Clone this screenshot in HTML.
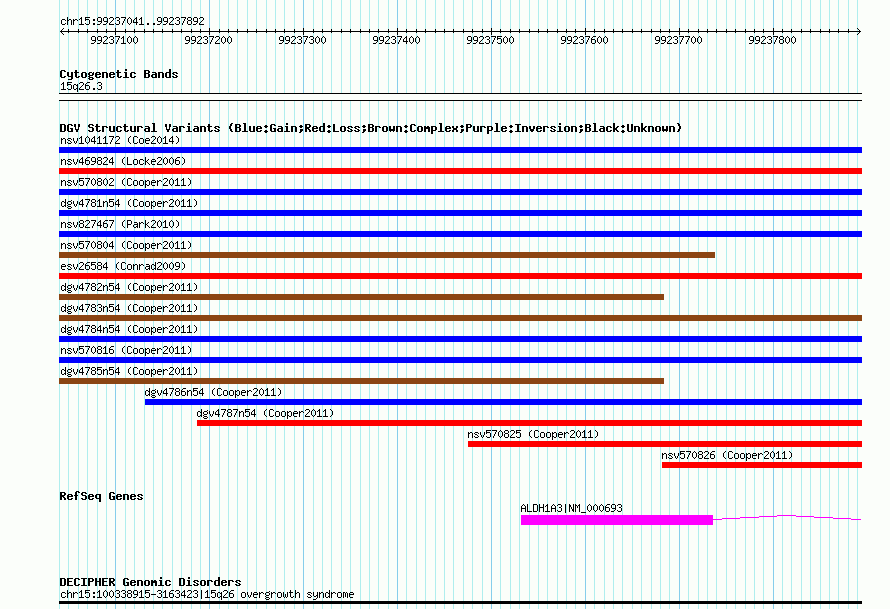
<!DOCTYPE html>
<html lang="en"><head><meta charset="utf-8"><title>chr15:99237041..99237892</title>
<style>
html,body{margin:0;padding:0;background:#fbfefa}
#gb{position:relative;width:890px;height:609px;overflow:hidden;background:#fbfefa}
#gb svg{position:absolute;left:0;top:0;display:block}
.t{position:absolute;white-space:pre;font-family:"Liberation Mono",monospace;font-size:10px;line-height:13px;height:13px;color:transparent}
.h{font-weight:bold;font-size:11.66px}
</style></head><body>
<div id="gb">
<svg width="890" height="609" viewBox="0 0 890 609" shape-rendering="crispEdges" aria-hidden="true"><defs><path id="s40" d="M3 3h1v1h-1zM2 4h1v1h-1zM1 5h1v1h-1zM1 6h1v1h-1zM1 7h1v1h-1zM1 8h1v1h-1zM2 9h1v1h-1zM3 10h1v1h-1z"/><path id="s41" d="M1 3h1v1h-1zM2 4h1v1h-1zM3 5h1v1h-1zM3 6h1v1h-1zM3 7h1v1h-1zM3 8h1v1h-1zM2 9h1v1h-1zM1 10h1v1h-1z"/><path id="s45" d="M0 7h5v1h-5z"/><path id="s46" d="M2 9h2v1h-2zM2 10h2v1h-2z"/><path id="s48" d="M2 3h1v1h-1zM1 4h1v1h-1zM3 4h1v1h-1zM0 5h1v1h-1zM4 5h1v1h-1zM0 6h1v1h-1zM4 6h1v1h-1zM0 7h1v1h-1zM4 7h1v1h-1zM0 8h1v1h-1zM4 8h1v1h-1zM1 9h1v1h-1zM3 9h1v1h-1zM2 10h1v1h-1z"/><path id="s49" d="M2 3h1v1h-1zM1 4h2v1h-2zM0 5h1v1h-1zM2 5h1v1h-1zM2 6h1v1h-1zM2 7h1v1h-1zM2 8h1v1h-1zM2 9h1v1h-1zM0 10h5v1h-5z"/><path id="s50" d="M1 3h3v1h-3zM0 4h1v1h-1zM4 4h1v1h-1zM4 5h1v1h-1zM3 6h1v1h-1zM2 7h1v1h-1zM1 8h1v1h-1zM0 9h1v1h-1zM0 10h5v1h-5z"/><path id="s51" d="M1 3h3v1h-3zM0 4h1v1h-1zM4 4h1v1h-1zM4 5h1v1h-1zM2 6h2v1h-2zM4 7h1v1h-1zM4 8h1v1h-1zM0 9h1v1h-1zM4 9h1v1h-1zM1 10h3v1h-3z"/><path id="s52" d="M3 3h1v1h-1zM2 4h2v1h-2zM1 5h1v1h-1zM3 5h1v1h-1zM0 6h1v1h-1zM3 6h1v1h-1zM0 7h1v1h-1zM3 7h1v1h-1zM0 8h5v1h-5zM3 9h1v1h-1zM3 10h1v1h-1z"/><path id="s53" d="M0 3h5v1h-5zM0 4h1v1h-1zM0 5h4v1h-4zM0 6h1v1h-1zM4 6h1v1h-1zM4 7h1v1h-1zM4 8h1v1h-1zM0 9h1v1h-1zM4 9h1v1h-1zM1 10h3v1h-3z"/><path id="s54" d="M2 3h3v1h-3zM1 4h1v1h-1zM0 5h1v1h-1zM0 6h4v1h-4zM0 7h1v1h-1zM4 7h1v1h-1zM0 8h1v1h-1zM4 8h1v1h-1zM0 9h1v1h-1zM4 9h1v1h-1zM1 10h3v1h-3z"/><path id="s55" d="M0 3h5v1h-5zM4 4h1v1h-1zM3 5h1v1h-1zM3 6h1v1h-1zM2 7h1v1h-1zM2 8h1v1h-1zM1 9h1v1h-1zM1 10h1v1h-1z"/><path id="s56" d="M1 3h3v1h-3zM0 4h1v1h-1zM4 4h1v1h-1zM0 5h1v1h-1zM4 5h1v1h-1zM1 6h3v1h-3zM0 7h1v1h-1zM4 7h1v1h-1zM0 8h1v1h-1zM4 8h1v1h-1zM0 9h1v1h-1zM4 9h1v1h-1zM1 10h3v1h-3z"/><path id="s57" d="M1 3h3v1h-3zM0 4h1v1h-1zM4 4h1v1h-1zM0 5h1v1h-1zM4 5h1v1h-1zM0 6h1v1h-1zM4 6h1v1h-1zM1 7h4v1h-4zM4 8h1v1h-1zM3 9h1v1h-1zM0 10h3v1h-3z"/><path id="s58" d="M2 5h2v1h-2zM2 6h2v1h-2zM2 9h2v1h-2zM2 10h2v1h-2z"/><path id="s65" d="M2 3h1v1h-1zM1 4h1v1h-1zM3 4h1v1h-1zM0 5h1v1h-1zM4 5h1v1h-1zM0 6h1v1h-1zM4 6h1v1h-1zM0 7h5v1h-5zM0 8h1v1h-1zM4 8h1v1h-1zM0 9h1v1h-1zM4 9h1v1h-1zM0 10h1v1h-1zM4 10h1v1h-1z"/><path id="s67" d="M1 3h3v1h-3zM0 4h1v1h-1zM4 4h1v1h-1zM0 5h1v1h-1zM0 6h1v1h-1zM0 7h1v1h-1zM0 8h1v1h-1zM0 9h1v1h-1zM4 9h1v1h-1zM1 10h3v1h-3z"/><path id="s68" d="M0 3h4v1h-4zM0 4h1v1h-1zM4 4h1v1h-1zM0 5h1v1h-1zM4 5h1v1h-1zM0 6h1v1h-1zM4 6h1v1h-1zM0 7h1v1h-1zM4 7h1v1h-1zM0 8h1v1h-1zM4 8h1v1h-1zM0 9h1v1h-1zM4 9h1v1h-1zM0 10h4v1h-4z"/><path id="s72" d="M0 3h1v1h-1zM4 3h1v1h-1zM0 4h1v1h-1zM4 4h1v1h-1zM0 5h1v1h-1zM4 5h1v1h-1zM0 6h5v1h-5zM0 7h1v1h-1zM4 7h1v1h-1zM0 8h1v1h-1zM4 8h1v1h-1zM0 9h1v1h-1zM4 9h1v1h-1zM0 10h1v1h-1zM4 10h1v1h-1z"/><path id="s76" d="M0 3h1v1h-1zM0 4h1v1h-1zM0 5h1v1h-1zM0 6h1v1h-1zM0 7h1v1h-1zM0 8h1v1h-1zM0 9h1v1h-1zM0 10h5v1h-5z"/><path id="s77" d="M0 3h1v1h-1zM4 3h1v1h-1zM0 4h2v1h-2zM3 4h2v1h-2zM0 5h1v1h-1zM2 5h1v1h-1zM4 5h1v1h-1zM0 6h1v1h-1zM2 6h1v1h-1zM4 6h1v1h-1zM0 7h1v1h-1zM4 7h1v1h-1zM0 8h1v1h-1zM4 8h1v1h-1zM0 9h1v1h-1zM4 9h1v1h-1zM0 10h1v1h-1zM4 10h1v1h-1z"/><path id="s78" d="M0 3h1v1h-1zM4 3h1v1h-1zM0 4h2v1h-2zM4 4h1v1h-1zM0 5h2v1h-2zM4 5h1v1h-1zM0 6h1v1h-1zM2 6h1v1h-1zM4 6h1v1h-1zM0 7h1v1h-1zM2 7h1v1h-1zM4 7h1v1h-1zM0 8h1v1h-1zM3 8h2v1h-2zM0 9h1v1h-1zM3 9h2v1h-2zM0 10h1v1h-1zM4 10h1v1h-1z"/><path id="s80" d="M0 3h4v1h-4zM0 4h1v1h-1zM4 4h1v1h-1zM0 5h1v1h-1zM4 5h1v1h-1zM0 6h1v1h-1zM4 6h1v1h-1zM0 7h4v1h-4zM0 8h1v1h-1zM0 9h1v1h-1zM0 10h1v1h-1z"/><path id="s95" d="M0 11h5v1h-5z"/><path id="s97" d="M1 5h3v1h-3zM4 6h1v1h-1zM1 7h4v1h-4zM0 8h1v1h-1zM4 8h1v1h-1zM0 9h1v1h-1zM3 9h2v1h-2zM1 10h2v1h-2zM4 10h1v1h-1z"/><path id="s99" d="M1 5h3v1h-3zM0 6h1v1h-1zM4 6h1v1h-1zM0 7h1v1h-1zM0 8h1v1h-1zM0 9h1v1h-1zM4 9h1v1h-1zM1 10h3v1h-3z"/><path id="s100" d="M4 3h1v1h-1zM4 4h1v1h-1zM1 5h2v1h-2zM4 5h1v1h-1zM0 6h1v1h-1zM3 6h2v1h-2zM0 7h1v1h-1zM4 7h1v1h-1zM0 8h1v1h-1zM4 8h1v1h-1zM0 9h1v1h-1zM3 9h2v1h-2zM1 10h2v1h-2zM4 10h1v1h-1z"/><path id="s101" d="M1 5h3v1h-3zM0 6h1v1h-1zM4 6h1v1h-1zM0 7h5v1h-5zM0 8h1v1h-1zM0 9h1v1h-1zM1 10h3v1h-3z"/><path id="s103" d="M4 4h1v1h-1zM1 5h3v1h-3zM0 6h1v1h-1zM4 6h1v1h-1zM0 7h1v1h-1zM4 7h1v1h-1zM1 8h3v1h-3zM0 9h1v1h-1zM1 10h3v1h-3zM0 11h1v1h-1zM4 11h1v1h-1zM1 12h3v1h-3z"/><path id="s104" d="M0 3h1v1h-1zM0 4h1v1h-1zM0 5h1v1h-1zM2 5h2v1h-2zM0 6h2v1h-2zM4 6h1v1h-1zM0 7h1v1h-1zM4 7h1v1h-1zM0 8h1v1h-1zM4 8h1v1h-1zM0 9h1v1h-1zM4 9h1v1h-1zM0 10h1v1h-1zM4 10h1v1h-1z"/><path id="s107" d="M0 3h1v1h-1zM0 4h1v1h-1zM0 5h1v1h-1zM3 5h1v1h-1zM0 6h1v1h-1zM2 6h1v1h-1zM0 7h2v1h-2zM0 8h1v1h-1zM2 8h1v1h-1zM0 9h1v1h-1zM3 9h1v1h-1zM0 10h1v1h-1zM4 10h1v1h-1z"/><path id="s109" d="M0 5h2v1h-2zM3 5h1v1h-1zM0 6h1v1h-1zM2 6h1v1h-1zM4 6h1v1h-1zM0 7h1v1h-1zM2 7h1v1h-1zM4 7h1v1h-1zM0 8h1v1h-1zM2 8h1v1h-1zM4 8h1v1h-1zM0 9h1v1h-1zM2 9h1v1h-1zM4 9h1v1h-1zM0 10h1v1h-1zM4 10h1v1h-1z"/><path id="s110" d="M0 5h1v1h-1zM2 5h2v1h-2zM0 6h2v1h-2zM4 6h1v1h-1zM0 7h1v1h-1zM4 7h1v1h-1zM0 8h1v1h-1zM4 8h1v1h-1zM0 9h1v1h-1zM4 9h1v1h-1zM0 10h1v1h-1zM4 10h1v1h-1z"/><path id="s111" d="M1 5h3v1h-3zM0 6h1v1h-1zM4 6h1v1h-1zM0 7h1v1h-1zM4 7h1v1h-1zM0 8h1v1h-1zM4 8h1v1h-1zM0 9h1v1h-1zM4 9h1v1h-1zM1 10h3v1h-3z"/><path id="s112" d="M0 5h1v1h-1zM2 5h2v1h-2zM0 6h2v1h-2zM4 6h1v1h-1zM0 7h1v1h-1zM4 7h1v1h-1zM0 8h1v1h-1zM4 8h1v1h-1zM0 9h2v1h-2zM4 9h1v1h-1zM0 10h1v1h-1zM2 10h2v1h-2zM0 11h1v1h-1zM0 12h1v1h-1z"/><path id="s113" d="M1 5h2v1h-2zM4 5h1v1h-1zM0 6h1v1h-1zM3 6h2v1h-2zM0 7h1v1h-1zM4 7h1v1h-1zM0 8h1v1h-1zM4 8h1v1h-1zM0 9h1v1h-1zM3 9h2v1h-2zM1 10h2v1h-2zM4 10h1v1h-1zM4 11h1v1h-1zM4 12h1v1h-1z"/><path id="s114" d="M0 5h1v1h-1zM2 5h2v1h-2zM0 6h2v1h-2zM4 6h1v1h-1zM0 7h1v1h-1zM0 8h1v1h-1zM0 9h1v1h-1zM0 10h1v1h-1z"/><path id="s115" d="M1 5h3v1h-3zM0 6h1v1h-1zM4 6h1v1h-1zM1 7h2v1h-2zM3 8h1v1h-1zM0 9h1v1h-1zM4 9h1v1h-1zM1 10h3v1h-3z"/><path id="s116" d="M1 3h1v1h-1zM1 4h1v1h-1zM0 5h4v1h-4zM1 6h1v1h-1zM1 7h1v1h-1zM1 8h1v1h-1zM1 9h1v1h-1zM4 9h1v1h-1zM2 10h2v1h-2z"/><path id="s118" d="M0 5h1v1h-1zM4 5h1v1h-1zM0 6h1v1h-1zM4 6h1v1h-1zM0 7h1v1h-1zM4 7h1v1h-1zM1 8h1v1h-1zM3 8h1v1h-1zM1 9h1v1h-1zM3 9h1v1h-1zM2 10h1v1h-1z"/><path id="s119" d="M0 5h1v1h-1zM4 5h1v1h-1zM0 6h1v1h-1zM4 6h1v1h-1zM0 7h1v1h-1zM2 7h1v1h-1zM4 7h1v1h-1zM0 8h1v1h-1zM2 8h1v1h-1zM4 8h1v1h-1zM0 9h1v1h-1zM2 9h1v1h-1zM4 9h1v1h-1zM1 10h1v1h-1zM3 10h1v1h-1z"/><path id="s121" d="M0 5h1v1h-1zM4 5h1v1h-1zM0 6h1v1h-1zM4 6h1v1h-1zM0 7h1v1h-1zM4 7h1v1h-1zM0 8h1v1h-1zM3 8h2v1h-2zM1 9h2v1h-2zM4 9h1v1h-1zM4 10h1v1h-1zM3 11h1v1h-1zM0 12h3v1h-3z"/><path id="s124" d="M2 3h1v1h-1zM2 4h1v1h-1zM2 5h1v1h-1zM2 6h1v1h-1zM2 7h1v1h-1zM2 8h1v1h-1zM2 9h1v1h-1zM2 10h1v1h-1zM2 11h1v1h-1z"/><path id="b40" d="M3 2h2v1h-2zM2 3h2v1h-2zM2 4h2v1h-2zM1 5h2v1h-2zM1 6h2v1h-2zM1 7h2v1h-2zM2 8h2v1h-2zM2 9h2v1h-2zM3 10h2v1h-2z"/><path id="b41" d="M1 2h2v1h-2zM2 3h2v1h-2zM2 4h2v1h-2zM3 5h2v1h-2zM3 6h2v1h-2zM3 7h2v1h-2zM2 8h2v1h-2zM2 9h2v1h-2zM1 10h2v1h-2z"/><path id="b58" d="M2 4h2v1h-2zM1 5h4v1h-4zM2 6h2v1h-2zM2 9h2v1h-2zM1 10h4v1h-4zM2 11h2v1h-2z"/><path id="b59" d="M2 4h2v1h-2zM1 5h4v1h-4zM2 6h2v1h-2zM2 8h3v1h-3zM2 9h3v1h-3zM2 10h2v1h-2zM1 11h2v1h-2z"/><path id="b66" d="M0 3h5v1h-5zM0 4h2v1h-2zM4 4h2v1h-2zM0 5h2v1h-2zM4 5h2v1h-2zM0 6h5v1h-5zM0 7h2v1h-2zM4 7h2v1h-2zM0 8h2v1h-2zM4 8h2v1h-2zM0 9h2v1h-2zM4 9h2v1h-2zM0 10h5v1h-5z"/><path id="b67" d="M1 3h4v1h-4zM0 4h2v1h-2zM4 4h2v1h-2zM0 5h2v1h-2zM0 6h2v1h-2zM0 7h2v1h-2zM0 8h2v1h-2zM0 9h2v1h-2zM4 9h2v1h-2zM1 10h4v1h-4z"/><path id="b68" d="M0 3h5v1h-5zM0 4h2v1h-2zM4 4h2v1h-2zM0 5h2v1h-2zM4 5h2v1h-2zM0 6h2v1h-2zM4 6h2v1h-2zM0 7h2v1h-2zM4 7h2v1h-2zM0 8h2v1h-2zM4 8h2v1h-2zM0 9h2v1h-2zM4 9h2v1h-2zM0 10h5v1h-5z"/><path id="b69" d="M0 3h6v1h-6zM0 4h2v1h-2zM0 5h2v1h-2zM0 6h5v1h-5zM0 7h2v1h-2zM0 8h2v1h-2zM0 9h2v1h-2zM0 10h6v1h-6z"/><path id="b71" d="M1 3h4v1h-4zM0 4h2v1h-2zM4 4h2v1h-2zM0 5h2v1h-2zM0 6h2v1h-2zM0 7h2v1h-2zM3 7h3v1h-3zM0 8h2v1h-2zM4 8h2v1h-2zM0 9h2v1h-2zM4 9h2v1h-2zM1 10h5v1h-5z"/><path id="b72" d="M0 3h2v1h-2zM4 3h2v1h-2zM0 4h2v1h-2zM4 4h2v1h-2zM0 5h2v1h-2zM4 5h2v1h-2zM0 6h6v1h-6zM0 7h2v1h-2zM4 7h2v1h-2zM0 8h2v1h-2zM4 8h2v1h-2zM0 9h2v1h-2zM4 9h2v1h-2zM0 10h2v1h-2zM4 10h2v1h-2z"/><path id="b73" d="M0 3h6v1h-6zM2 4h2v1h-2zM2 5h2v1h-2zM2 6h2v1h-2zM2 7h2v1h-2zM2 8h2v1h-2zM2 9h2v1h-2zM0 10h6v1h-6z"/><path id="b76" d="M0 3h2v1h-2zM0 4h2v1h-2zM0 5h2v1h-2zM0 6h2v1h-2zM0 7h2v1h-2zM0 8h2v1h-2zM0 9h2v1h-2zM0 10h6v1h-6z"/><path id="b80" d="M0 3h5v1h-5zM0 4h2v1h-2zM4 4h2v1h-2zM0 5h2v1h-2zM4 5h2v1h-2zM0 6h5v1h-5zM0 7h2v1h-2zM0 8h2v1h-2zM0 9h2v1h-2zM0 10h2v1h-2z"/><path id="b82" d="M0 3h5v1h-5zM0 4h2v1h-2zM4 4h2v1h-2zM0 5h2v1h-2zM4 5h2v1h-2zM0 6h5v1h-5zM0 7h4v1h-4zM0 8h2v1h-2zM3 8h2v1h-2zM0 9h2v1h-2zM4 9h2v1h-2zM0 10h2v1h-2zM4 10h2v1h-2z"/><path id="b83" d="M1 3h4v1h-4zM0 4h2v1h-2zM4 4h2v1h-2zM0 5h2v1h-2zM1 6h4v1h-4zM4 7h2v1h-2zM4 8h2v1h-2zM0 9h2v1h-2zM4 9h2v1h-2zM1 10h4v1h-4z"/><path id="b85" d="M0 3h2v1h-2zM4 3h2v1h-2zM0 4h2v1h-2zM4 4h2v1h-2zM0 5h2v1h-2zM4 5h2v1h-2zM0 6h2v1h-2zM4 6h2v1h-2zM0 7h2v1h-2zM4 7h2v1h-2zM0 8h2v1h-2zM4 8h2v1h-2zM0 9h2v1h-2zM4 9h2v1h-2zM1 10h4v1h-4z"/><path id="b86" d="M0 3h2v1h-2zM4 3h2v1h-2zM0 4h2v1h-2zM4 4h2v1h-2zM0 5h2v1h-2zM4 5h2v1h-2zM1 6h1v1h-1zM4 6h1v1h-1zM1 7h1v1h-1zM4 7h1v1h-1zM1 8h4v1h-4zM2 9h2v1h-2zM2 10h2v1h-2z"/><path id="b97" d="M1 5h4v1h-4zM4 6h2v1h-2zM1 7h5v1h-5zM0 8h2v1h-2zM4 8h2v1h-2zM0 9h2v1h-2zM4 9h2v1h-2zM1 10h5v1h-5z"/><path id="b99" d="M1 5h4v1h-4zM0 6h2v1h-2zM4 6h2v1h-2zM0 7h2v1h-2zM0 8h2v1h-2zM0 9h2v1h-2zM4 9h2v1h-2zM1 10h4v1h-4z"/><path id="b100" d="M4 2h2v1h-2zM4 3h2v1h-2zM4 4h2v1h-2zM1 5h5v1h-5zM0 6h2v1h-2zM4 6h2v1h-2zM0 7h2v1h-2zM4 7h2v1h-2zM0 8h2v1h-2zM4 8h2v1h-2zM0 9h2v1h-2zM4 9h2v1h-2zM1 10h5v1h-5z"/><path id="b101" d="M1 5h4v1h-4zM0 6h2v1h-2zM4 6h2v1h-2zM0 7h6v1h-6zM0 8h2v1h-2zM0 9h2v1h-2zM4 9h2v1h-2zM1 10h4v1h-4z"/><path id="b102" d="M2 2h3v1h-3zM1 3h2v1h-2zM4 3h2v1h-2zM1 4h2v1h-2zM1 5h2v1h-2zM0 6h4v1h-4zM1 7h2v1h-2zM1 8h2v1h-2zM1 9h2v1h-2zM1 10h2v1h-2z"/><path id="b103" d="M1 5h3v1h-3zM5 5h1v1h-1zM0 6h2v1h-2zM4 6h2v1h-2zM0 7h2v1h-2zM4 7h2v1h-2zM1 8h4v1h-4zM0 9h2v1h-2zM1 10h4v1h-4zM0 11h2v1h-2zM4 11h2v1h-2zM1 12h4v1h-4z"/><path id="b105" d="M2 2h2v1h-2zM2 3h2v1h-2zM1 5h3v1h-3zM2 6h2v1h-2zM2 7h2v1h-2zM2 8h2v1h-2zM2 9h2v1h-2zM0 10h6v1h-6z"/><path id="b107" d="M0 2h2v1h-2zM0 3h2v1h-2zM0 4h2v1h-2zM0 5h2v1h-2zM4 5h2v1h-2zM0 6h2v1h-2zM3 6h2v1h-2zM0 7h4v1h-4zM0 8h4v1h-4zM0 9h2v1h-2zM3 9h2v1h-2zM0 10h2v1h-2zM4 10h2v1h-2z"/><path id="b108" d="M1 2h3v1h-3zM2 3h2v1h-2zM2 4h2v1h-2zM2 5h2v1h-2zM2 6h2v1h-2zM2 7h2v1h-2zM2 8h2v1h-2zM2 9h2v1h-2zM0 10h6v1h-6z"/><path id="b109" d="M0 5h2v1h-2zM3 5h2v1h-2zM0 6h6v1h-6zM0 7h6v1h-6zM0 8h2v1h-2zM4 8h2v1h-2zM0 9h2v1h-2zM4 9h2v1h-2zM0 10h2v1h-2zM4 10h2v1h-2z"/><path id="b110" d="M0 5h5v1h-5zM0 6h2v1h-2zM4 6h2v1h-2zM0 7h2v1h-2zM4 7h2v1h-2zM0 8h2v1h-2zM4 8h2v1h-2zM0 9h2v1h-2zM4 9h2v1h-2zM0 10h2v1h-2zM4 10h2v1h-2z"/><path id="b111" d="M1 5h4v1h-4zM0 6h2v1h-2zM4 6h2v1h-2zM0 7h2v1h-2zM4 7h2v1h-2zM0 8h2v1h-2zM4 8h2v1h-2zM0 9h2v1h-2zM4 9h2v1h-2zM1 10h4v1h-4z"/><path id="b112" d="M0 5h5v1h-5zM0 6h2v1h-2zM4 6h2v1h-2zM0 7h2v1h-2zM4 7h2v1h-2zM0 8h2v1h-2zM4 8h2v1h-2zM0 9h5v1h-5zM0 10h2v1h-2zM0 11h2v1h-2zM0 12h2v1h-2z"/><path id="b113" d="M1 5h5v1h-5zM0 6h2v1h-2zM4 6h2v1h-2zM0 7h2v1h-2zM4 7h2v1h-2zM0 8h2v1h-2zM4 8h2v1h-2zM1 9h5v1h-5zM4 10h2v1h-2zM4 11h2v1h-2zM4 12h2v1h-2z"/><path id="b114" d="M0 5h5v1h-5zM0 6h2v1h-2zM4 6h2v1h-2zM0 7h2v1h-2zM0 8h2v1h-2zM0 9h2v1h-2zM0 10h2v1h-2z"/><path id="b115" d="M1 5h4v1h-4zM0 6h2v1h-2zM4 6h2v1h-2zM1 7h2v1h-2zM3 8h2v1h-2zM0 9h2v1h-2zM4 9h2v1h-2zM1 10h4v1h-4z"/><path id="b116" d="M1 3h2v1h-2zM1 4h2v1h-2zM0 5h5v1h-5zM1 6h2v1h-2zM1 7h2v1h-2zM1 8h2v1h-2zM1 9h2v1h-2zM4 9h2v1h-2zM2 10h3v1h-3z"/><path id="b117" d="M0 5h2v1h-2zM4 5h2v1h-2zM0 6h2v1h-2zM4 6h2v1h-2zM0 7h2v1h-2zM4 7h2v1h-2zM0 8h2v1h-2zM4 8h2v1h-2zM0 9h2v1h-2zM4 9h2v1h-2zM1 10h5v1h-5z"/><path id="b118" d="M0 5h2v1h-2zM4 5h2v1h-2zM0 6h2v1h-2zM4 6h2v1h-2zM0 7h2v1h-2zM4 7h2v1h-2zM1 8h4v1h-4zM1 9h4v1h-4zM2 10h2v1h-2z"/><path id="b119" d="M0 5h2v1h-2zM4 5h2v1h-2zM0 6h2v1h-2zM4 6h2v1h-2zM0 7h2v1h-2zM4 7h2v1h-2zM0 8h6v1h-6zM0 9h6v1h-6zM1 10h1v1h-1zM4 10h1v1h-1z"/><path id="b120" d="M0 5h2v1h-2zM4 5h2v1h-2zM0 6h2v1h-2zM4 6h2v1h-2zM1 7h4v1h-4zM1 8h4v1h-4zM0 9h2v1h-2zM4 9h2v1h-2zM0 10h2v1h-2zM4 10h2v1h-2z"/><path id="b121" d="M0 5h2v1h-2zM4 5h2v1h-2zM0 6h2v1h-2zM4 6h2v1h-2zM0 7h2v1h-2zM4 7h2v1h-2zM0 8h2v1h-2zM4 8h2v1h-2zM1 9h5v1h-5zM4 10h2v1h-2zM4 11h2v1h-2zM1 12h4v1h-4z"/></defs><rect width="890" height="609" fill="#fbfefa"/><g transform="translate(.5 0)" fill="none" stroke-width="1">
<path stroke="#afeeee" d="M59 0v609M68 0v609M78 0v609M87 0v609M97 0v609M106 0v609M125 0v609M134 0v609M144 0v609M153 0v609M162 0v609M172 0v609M181 0v609M191 0v609M200 0v609M219 0v609M228 0v609M237 0v609M247 0v609M256 0v609M266 0v609M275 0v609M284 0v609M294 0v609M313 0v609M322 0v609M331 0v609M341 0v609M350 0v609M360 0v609M369 0v609M378 0v609M388 0v609M406 0v609M416 0v609M425 0v609M435 0v609M444 0v609M453 0v609M463 0v609M472 0v609M482 0v609M500 0v609M510 0v609M519 0v609M529 0v609M538 0v609M547 0v609M557 0v609M566 0v609M575 0v609M594 0v609M604 0v609M613 0v609M622 0v609M632 0v609M641 0v609M651 0v609M660 0v609M669 0v609M688 0v609M698 0v609M707 0v609M716 0v609M726 0v609M735 0v609M745 0v609M754 0v609M763 0v609M782 0v609M791 0v609M801 0v609M810 0v609M820 0v609M829 0v609M838 0v609M848 0v609M857 0v609"/>
<path stroke="#87ceeb" d="M115 0v609M209 0v609M303 0v609M397 0v609M491 0v609M585 0v609M679 0v609M773 0v609"/>
</g>
<rect x="59" y="93" width="803" height="8" fill="#fbfefa"/>
<rect x="59" y="147" width="803" height="6" fill="#0000ff"/>
<rect x="59" y="168" width="803" height="6" fill="#ff0000"/>
<rect x="59" y="189" width="803" height="6" fill="#0000ff"/>
<rect x="59" y="210" width="803" height="6" fill="#0000ff"/>
<rect x="59" y="231" width="803" height="6" fill="#0000ff"/>
<rect x="59" y="252" width="656" height="6" fill="#8b4513"/>
<rect x="59" y="273" width="803" height="6" fill="#ff0000"/>
<rect x="59" y="294" width="605" height="6" fill="#8b4513"/>
<rect x="59" y="315" width="803" height="6" fill="#8b4513"/>
<rect x="59" y="336" width="803" height="6" fill="#0000ff"/>
<rect x="59" y="357" width="803" height="6" fill="#0000ff"/>
<rect x="59" y="378" width="605" height="6" fill="#8b4513"/>
<rect x="145" y="399" width="717" height="6" fill="#0000ff"/>
<rect x="197" y="420" width="665" height="6" fill="#ff0000"/>
<rect x="468" y="441" width="394" height="6" fill="#ff0000"/>
<rect x="662" y="462" width="200" height="6" fill="#ff0000"/>
<rect x="521" y="515" width="192" height="10" fill="#ff00ff"/>
<path fill="#ff00ff" d="M713 519h9v1h-9zM722 518h18v1h-18zM740 517h19v1h-19zM759 516h18v1h-18zM777 515h19v1h-19zM796 516h18v1h-18zM814 517h19v1h-19zM833 518h18v1h-18zM851 519h10v1h-10z"/>
<path fill="#000" d="M60 31h801v1h-801zM61 30h1v1h-1zM61 32h1v1h-1zM859 30h1v1h-1zM859 32h1v1h-1zM62 29h1v1h-1zM62 33h1v1h-1zM858 29h1v1h-1zM858 33h1v1h-1zM63 28h1v1h-1zM63 34h1v1h-1zM857 28h1v1h-1zM857 34h1v1h-1zM68 29h1v4h-1zM78 29h1v4h-1zM87 29h1v4h-1zM97 29h1v4h-1zM106 29h1v4h-1zM125 29h1v4h-1zM134 29h1v4h-1zM144 29h1v4h-1zM153 29h1v4h-1zM162 29h1v4h-1zM172 29h1v4h-1zM181 29h1v4h-1zM191 29h1v4h-1zM200 29h1v4h-1zM219 29h1v4h-1zM228 29h1v4h-1zM237 29h1v4h-1zM247 29h1v4h-1zM256 29h1v4h-1zM266 29h1v4h-1zM275 29h1v4h-1zM284 29h1v4h-1zM294 29h1v4h-1zM313 29h1v4h-1zM322 29h1v4h-1zM331 29h1v4h-1zM341 29h1v4h-1zM350 29h1v4h-1zM360 29h1v4h-1zM369 29h1v4h-1zM378 29h1v4h-1zM388 29h1v4h-1zM406 29h1v4h-1zM416 29h1v4h-1zM425 29h1v4h-1zM435 29h1v4h-1zM444 29h1v4h-1zM453 29h1v4h-1zM463 29h1v4h-1zM472 29h1v4h-1zM482 29h1v4h-1zM500 29h1v4h-1zM510 29h1v4h-1zM519 29h1v4h-1zM529 29h1v4h-1zM538 29h1v4h-1zM547 29h1v4h-1zM557 29h1v4h-1zM566 29h1v4h-1zM575 29h1v4h-1zM594 29h1v4h-1zM604 29h1v4h-1zM613 29h1v4h-1zM622 29h1v4h-1zM632 29h1v4h-1zM641 29h1v4h-1zM651 29h1v4h-1zM660 29h1v4h-1zM669 29h1v4h-1zM688 29h1v4h-1zM698 29h1v4h-1zM707 29h1v4h-1zM716 29h1v4h-1zM726 29h1v4h-1zM735 29h1v4h-1zM745 29h1v4h-1zM754 29h1v4h-1zM763 29h1v4h-1zM782 29h1v4h-1zM791 29h1v4h-1zM801 29h1v4h-1zM810 29h1v4h-1zM820 29h1v4h-1zM829 29h1v4h-1zM838 29h1v4h-1zM848 29h1v4h-1zM115 28h1v7h-1zM209 28h1v7h-1zM303 28h1v7h-1zM397 28h1v7h-1zM491 28h1v7h-1zM585 28h1v7h-1zM679 28h1v7h-1zM773 28h1v7h-1zM59 93h803v1h-803zM59 100h803v1h-803zM59 601h803v3h-803z"/>
<g fill="#000"><use href="#s99" x="61" y="14"/><use href="#s104" x="67" y="14"/><use href="#s114" x="73" y="14"/><use href="#s49" x="79" y="14"/><use href="#s53" x="85" y="14"/><use href="#s58" x="91" y="14"/><use href="#s57" x="97" y="14"/><use href="#s57" x="103" y="14"/><use href="#s50" x="109" y="14"/><use href="#s51" x="115" y="14"/><use href="#s55" x="121" y="14"/><use href="#s48" x="127" y="14"/><use href="#s52" x="133" y="14"/><use href="#s49" x="139" y="14"/><use href="#s46" x="145" y="14"/><use href="#s46" x="151" y="14"/><use href="#s57" x="157" y="14"/><use href="#s57" x="163" y="14"/><use href="#s50" x="169" y="14"/><use href="#s51" x="175" y="14"/><use href="#s55" x="181" y="14"/><use href="#s56" x="187" y="14"/><use href="#s57" x="193" y="14"/><use href="#s50" x="199" y="14"/><use href="#s57" x="91" y="33"/><use href="#s57" x="97" y="33"/><use href="#s50" x="103" y="33"/><use href="#s51" x="109" y="33"/><use href="#s55" x="115" y="33"/><use href="#s49" x="121" y="33"/><use href="#s48" x="127" y="33"/><use href="#s48" x="133" y="33"/><use href="#s57" x="185" y="33"/><use href="#s57" x="191" y="33"/><use href="#s50" x="197" y="33"/><use href="#s51" x="203" y="33"/><use href="#s55" x="209" y="33"/><use href="#s50" x="215" y="33"/><use href="#s48" x="221" y="33"/><use href="#s48" x="227" y="33"/><use href="#s57" x="279" y="33"/><use href="#s57" x="285" y="33"/><use href="#s50" x="291" y="33"/><use href="#s51" x="297" y="33"/><use href="#s55" x="303" y="33"/><use href="#s51" x="309" y="33"/><use href="#s48" x="315" y="33"/><use href="#s48" x="321" y="33"/><use href="#s57" x="373" y="33"/><use href="#s57" x="379" y="33"/><use href="#s50" x="385" y="33"/><use href="#s51" x="391" y="33"/><use href="#s55" x="397" y="33"/><use href="#s52" x="403" y="33"/><use href="#s48" x="409" y="33"/><use href="#s48" x="415" y="33"/><use href="#s57" x="467" y="33"/><use href="#s57" x="473" y="33"/><use href="#s50" x="479" y="33"/><use href="#s51" x="485" y="33"/><use href="#s55" x="491" y="33"/><use href="#s53" x="497" y="33"/><use href="#s48" x="503" y="33"/><use href="#s48" x="509" y="33"/><use href="#s57" x="561" y="33"/><use href="#s57" x="567" y="33"/><use href="#s50" x="573" y="33"/><use href="#s51" x="579" y="33"/><use href="#s55" x="585" y="33"/><use href="#s54" x="591" y="33"/><use href="#s48" x="597" y="33"/><use href="#s48" x="603" y="33"/><use href="#s57" x="655" y="33"/><use href="#s57" x="661" y="33"/><use href="#s50" x="667" y="33"/><use href="#s51" x="673" y="33"/><use href="#s55" x="679" y="33"/><use href="#s55" x="685" y="33"/><use href="#s48" x="691" y="33"/><use href="#s48" x="697" y="33"/><use href="#s57" x="749" y="33"/><use href="#s57" x="755" y="33"/><use href="#s50" x="761" y="33"/><use href="#s51" x="767" y="33"/><use href="#s55" x="773" y="33"/><use href="#s56" x="779" y="33"/><use href="#s48" x="785" y="33"/><use href="#s48" x="791" y="33"/><use href="#b67" x="60" y="67"/><use href="#b121" x="67" y="67"/><use href="#b116" x="74" y="67"/><use href="#b111" x="81" y="67"/><use href="#b103" x="88" y="67"/><use href="#b101" x="95" y="67"/><use href="#b110" x="102" y="67"/><use href="#b101" x="109" y="67"/><use href="#b116" x="116" y="67"/><use href="#b105" x="123" y="67"/><use href="#b99" x="130" y="67"/><use href="#b66" x="144" y="67"/><use href="#b97" x="151" y="67"/><use href="#b110" x="158" y="67"/><use href="#b100" x="165" y="67"/><use href="#b115" x="172" y="67"/><use href="#s49" x="61" y="79"/><use href="#s53" x="67" y="79"/><use href="#s113" x="73" y="79"/><use href="#s50" x="79" y="79"/><use href="#s54" x="85" y="79"/><use href="#s46" x="91" y="79"/><use href="#s51" x="97" y="79"/><use href="#b68" x="60" y="121"/><use href="#b71" x="67" y="121"/><use href="#b86" x="74" y="121"/><use href="#b83" x="88" y="121"/><use href="#b116" x="95" y="121"/><use href="#b114" x="102" y="121"/><use href="#b117" x="109" y="121"/><use href="#b99" x="116" y="121"/><use href="#b116" x="123" y="121"/><use href="#b117" x="130" y="121"/><use href="#b114" x="137" y="121"/><use href="#b97" x="144" y="121"/><use href="#b108" x="151" y="121"/><use href="#b86" x="165" y="121"/><use href="#b97" x="172" y="121"/><use href="#b114" x="179" y="121"/><use href="#b105" x="186" y="121"/><use href="#b97" x="193" y="121"/><use href="#b110" x="200" y="121"/><use href="#b116" x="207" y="121"/><use href="#b115" x="214" y="121"/><use href="#b40" x="228" y="121"/><use href="#b66" x="235" y="121"/><use href="#b108" x="242" y="121"/><use href="#b117" x="249" y="121"/><use href="#b101" x="256" y="121"/><use href="#b58" x="263" y="121"/><use href="#b71" x="270" y="121"/><use href="#b97" x="277" y="121"/><use href="#b105" x="284" y="121"/><use href="#b110" x="291" y="121"/><use href="#b59" x="298" y="121"/><use href="#b82" x="305" y="121"/><use href="#b101" x="312" y="121"/><use href="#b100" x="319" y="121"/><use href="#b58" x="326" y="121"/><use href="#b76" x="333" y="121"/><use href="#b111" x="340" y="121"/><use href="#b115" x="347" y="121"/><use href="#b115" x="354" y="121"/><use href="#b59" x="361" y="121"/><use href="#b66" x="368" y="121"/><use href="#b114" x="375" y="121"/><use href="#b111" x="382" y="121"/><use href="#b119" x="389" y="121"/><use href="#b110" x="396" y="121"/><use href="#b58" x="403" y="121"/><use href="#b67" x="410" y="121"/><use href="#b111" x="417" y="121"/><use href="#b109" x="424" y="121"/><use href="#b112" x="431" y="121"/><use href="#b108" x="438" y="121"/><use href="#b101" x="445" y="121"/><use href="#b120" x="452" y="121"/><use href="#b59" x="459" y="121"/><use href="#b80" x="466" y="121"/><use href="#b117" x="473" y="121"/><use href="#b114" x="480" y="121"/><use href="#b112" x="487" y="121"/><use href="#b108" x="494" y="121"/><use href="#b101" x="501" y="121"/><use href="#b58" x="508" y="121"/><use href="#b73" x="515" y="121"/><use href="#b110" x="522" y="121"/><use href="#b118" x="529" y="121"/><use href="#b101" x="536" y="121"/><use href="#b114" x="543" y="121"/><use href="#b115" x="550" y="121"/><use href="#b105" x="557" y="121"/><use href="#b111" x="564" y="121"/><use href="#b110" x="571" y="121"/><use href="#b59" x="578" y="121"/><use href="#b66" x="585" y="121"/><use href="#b108" x="592" y="121"/><use href="#b97" x="599" y="121"/><use href="#b99" x="606" y="121"/><use href="#b107" x="613" y="121"/><use href="#b58" x="620" y="121"/><use href="#b85" x="627" y="121"/><use href="#b110" x="634" y="121"/><use href="#b107" x="641" y="121"/><use href="#b110" x="648" y="121"/><use href="#b111" x="655" y="121"/><use href="#b119" x="662" y="121"/><use href="#b110" x="669" y="121"/><use href="#b41" x="676" y="121"/><use href="#s110" x="61" y="133"/><use href="#s115" x="67" y="133"/><use href="#s118" x="73" y="133"/><use href="#s49" x="79" y="133"/><use href="#s48" x="85" y="133"/><use href="#s52" x="91" y="133"/><use href="#s49" x="97" y="133"/><use href="#s49" x="103" y="133"/><use href="#s55" x="109" y="133"/><use href="#s50" x="115" y="133"/><use href="#s40" x="127" y="133"/><use href="#s67" x="133" y="133"/><use href="#s111" x="139" y="133"/><use href="#s101" x="145" y="133"/><use href="#s50" x="151" y="133"/><use href="#s48" x="157" y="133"/><use href="#s49" x="163" y="133"/><use href="#s52" x="169" y="133"/><use href="#s41" x="175" y="133"/><use href="#s110" x="61" y="154"/><use href="#s115" x="67" y="154"/><use href="#s118" x="73" y="154"/><use href="#s52" x="79" y="154"/><use href="#s54" x="85" y="154"/><use href="#s57" x="91" y="154"/><use href="#s56" x="97" y="154"/><use href="#s50" x="103" y="154"/><use href="#s52" x="109" y="154"/><use href="#s40" x="121" y="154"/><use href="#s76" x="127" y="154"/><use href="#s111" x="133" y="154"/><use href="#s99" x="139" y="154"/><use href="#s107" x="145" y="154"/><use href="#s101" x="151" y="154"/><use href="#s50" x="157" y="154"/><use href="#s48" x="163" y="154"/><use href="#s48" x="169" y="154"/><use href="#s54" x="175" y="154"/><use href="#s41" x="181" y="154"/><use href="#s110" x="61" y="175"/><use href="#s115" x="67" y="175"/><use href="#s118" x="73" y="175"/><use href="#s53" x="79" y="175"/><use href="#s55" x="85" y="175"/><use href="#s48" x="91" y="175"/><use href="#s56" x="97" y="175"/><use href="#s48" x="103" y="175"/><use href="#s50" x="109" y="175"/><use href="#s40" x="121" y="175"/><use href="#s67" x="127" y="175"/><use href="#s111" x="133" y="175"/><use href="#s111" x="139" y="175"/><use href="#s112" x="145" y="175"/><use href="#s101" x="151" y="175"/><use href="#s114" x="157" y="175"/><use href="#s50" x="163" y="175"/><use href="#s48" x="169" y="175"/><use href="#s49" x="175" y="175"/><use href="#s49" x="181" y="175"/><use href="#s41" x="187" y="175"/><use href="#s100" x="61" y="196"/><use href="#s103" x="67" y="196"/><use href="#s118" x="73" y="196"/><use href="#s52" x="79" y="196"/><use href="#s55" x="85" y="196"/><use href="#s56" x="91" y="196"/><use href="#s49" x="97" y="196"/><use href="#s110" x="103" y="196"/><use href="#s53" x="109" y="196"/><use href="#s52" x="115" y="196"/><use href="#s40" x="127" y="196"/><use href="#s67" x="133" y="196"/><use href="#s111" x="139" y="196"/><use href="#s111" x="145" y="196"/><use href="#s112" x="151" y="196"/><use href="#s101" x="157" y="196"/><use href="#s114" x="163" y="196"/><use href="#s50" x="169" y="196"/><use href="#s48" x="175" y="196"/><use href="#s49" x="181" y="196"/><use href="#s49" x="187" y="196"/><use href="#s41" x="193" y="196"/><use href="#s110" x="61" y="217"/><use href="#s115" x="67" y="217"/><use href="#s118" x="73" y="217"/><use href="#s56" x="79" y="217"/><use href="#s50" x="85" y="217"/><use href="#s55" x="91" y="217"/><use href="#s52" x="97" y="217"/><use href="#s54" x="103" y="217"/><use href="#s55" x="109" y="217"/><use href="#s40" x="121" y="217"/><use href="#s80" x="127" y="217"/><use href="#s97" x="133" y="217"/><use href="#s114" x="139" y="217"/><use href="#s107" x="145" y="217"/><use href="#s50" x="151" y="217"/><use href="#s48" x="157" y="217"/><use href="#s49" x="163" y="217"/><use href="#s48" x="169" y="217"/><use href="#s41" x="175" y="217"/><use href="#s110" x="61" y="238"/><use href="#s115" x="67" y="238"/><use href="#s118" x="73" y="238"/><use href="#s53" x="79" y="238"/><use href="#s55" x="85" y="238"/><use href="#s48" x="91" y="238"/><use href="#s56" x="97" y="238"/><use href="#s48" x="103" y="238"/><use href="#s52" x="109" y="238"/><use href="#s40" x="121" y="238"/><use href="#s67" x="127" y="238"/><use href="#s111" x="133" y="238"/><use href="#s111" x="139" y="238"/><use href="#s112" x="145" y="238"/><use href="#s101" x="151" y="238"/><use href="#s114" x="157" y="238"/><use href="#s50" x="163" y="238"/><use href="#s48" x="169" y="238"/><use href="#s49" x="175" y="238"/><use href="#s49" x="181" y="238"/><use href="#s41" x="187" y="238"/><use href="#s101" x="61" y="259"/><use href="#s115" x="67" y="259"/><use href="#s118" x="73" y="259"/><use href="#s50" x="79" y="259"/><use href="#s54" x="85" y="259"/><use href="#s53" x="91" y="259"/><use href="#s56" x="97" y="259"/><use href="#s52" x="103" y="259"/><use href="#s40" x="115" y="259"/><use href="#s67" x="121" y="259"/><use href="#s111" x="127" y="259"/><use href="#s110" x="133" y="259"/><use href="#s114" x="139" y="259"/><use href="#s97" x="145" y="259"/><use href="#s100" x="151" y="259"/><use href="#s50" x="157" y="259"/><use href="#s48" x="163" y="259"/><use href="#s48" x="169" y="259"/><use href="#s57" x="175" y="259"/><use href="#s41" x="181" y="259"/><use href="#s100" x="61" y="280"/><use href="#s103" x="67" y="280"/><use href="#s118" x="73" y="280"/><use href="#s52" x="79" y="280"/><use href="#s55" x="85" y="280"/><use href="#s56" x="91" y="280"/><use href="#s50" x="97" y="280"/><use href="#s110" x="103" y="280"/><use href="#s53" x="109" y="280"/><use href="#s52" x="115" y="280"/><use href="#s40" x="127" y="280"/><use href="#s67" x="133" y="280"/><use href="#s111" x="139" y="280"/><use href="#s111" x="145" y="280"/><use href="#s112" x="151" y="280"/><use href="#s101" x="157" y="280"/><use href="#s114" x="163" y="280"/><use href="#s50" x="169" y="280"/><use href="#s48" x="175" y="280"/><use href="#s49" x="181" y="280"/><use href="#s49" x="187" y="280"/><use href="#s41" x="193" y="280"/><use href="#s100" x="61" y="301"/><use href="#s103" x="67" y="301"/><use href="#s118" x="73" y="301"/><use href="#s52" x="79" y="301"/><use href="#s55" x="85" y="301"/><use href="#s56" x="91" y="301"/><use href="#s51" x="97" y="301"/><use href="#s110" x="103" y="301"/><use href="#s53" x="109" y="301"/><use href="#s52" x="115" y="301"/><use href="#s40" x="127" y="301"/><use href="#s67" x="133" y="301"/><use href="#s111" x="139" y="301"/><use href="#s111" x="145" y="301"/><use href="#s112" x="151" y="301"/><use href="#s101" x="157" y="301"/><use href="#s114" x="163" y="301"/><use href="#s50" x="169" y="301"/><use href="#s48" x="175" y="301"/><use href="#s49" x="181" y="301"/><use href="#s49" x="187" y="301"/><use href="#s41" x="193" y="301"/><use href="#s100" x="61" y="322"/><use href="#s103" x="67" y="322"/><use href="#s118" x="73" y="322"/><use href="#s52" x="79" y="322"/><use href="#s55" x="85" y="322"/><use href="#s56" x="91" y="322"/><use href="#s52" x="97" y="322"/><use href="#s110" x="103" y="322"/><use href="#s53" x="109" y="322"/><use href="#s52" x="115" y="322"/><use href="#s40" x="127" y="322"/><use href="#s67" x="133" y="322"/><use href="#s111" x="139" y="322"/><use href="#s111" x="145" y="322"/><use href="#s112" x="151" y="322"/><use href="#s101" x="157" y="322"/><use href="#s114" x="163" y="322"/><use href="#s50" x="169" y="322"/><use href="#s48" x="175" y="322"/><use href="#s49" x="181" y="322"/><use href="#s49" x="187" y="322"/><use href="#s41" x="193" y="322"/><use href="#s110" x="61" y="343"/><use href="#s115" x="67" y="343"/><use href="#s118" x="73" y="343"/><use href="#s53" x="79" y="343"/><use href="#s55" x="85" y="343"/><use href="#s48" x="91" y="343"/><use href="#s56" x="97" y="343"/><use href="#s49" x="103" y="343"/><use href="#s54" x="109" y="343"/><use href="#s40" x="121" y="343"/><use href="#s67" x="127" y="343"/><use href="#s111" x="133" y="343"/><use href="#s111" x="139" y="343"/><use href="#s112" x="145" y="343"/><use href="#s101" x="151" y="343"/><use href="#s114" x="157" y="343"/><use href="#s50" x="163" y="343"/><use href="#s48" x="169" y="343"/><use href="#s49" x="175" y="343"/><use href="#s49" x="181" y="343"/><use href="#s41" x="187" y="343"/><use href="#s100" x="61" y="364"/><use href="#s103" x="67" y="364"/><use href="#s118" x="73" y="364"/><use href="#s52" x="79" y="364"/><use href="#s55" x="85" y="364"/><use href="#s56" x="91" y="364"/><use href="#s53" x="97" y="364"/><use href="#s110" x="103" y="364"/><use href="#s53" x="109" y="364"/><use href="#s52" x="115" y="364"/><use href="#s40" x="127" y="364"/><use href="#s67" x="133" y="364"/><use href="#s111" x="139" y="364"/><use href="#s111" x="145" y="364"/><use href="#s112" x="151" y="364"/><use href="#s101" x="157" y="364"/><use href="#s114" x="163" y="364"/><use href="#s50" x="169" y="364"/><use href="#s48" x="175" y="364"/><use href="#s49" x="181" y="364"/><use href="#s49" x="187" y="364"/><use href="#s41" x="193" y="364"/><use href="#s100" x="145" y="385"/><use href="#s103" x="151" y="385"/><use href="#s118" x="157" y="385"/><use href="#s52" x="163" y="385"/><use href="#s55" x="169" y="385"/><use href="#s56" x="175" y="385"/><use href="#s54" x="181" y="385"/><use href="#s110" x="187" y="385"/><use href="#s53" x="193" y="385"/><use href="#s52" x="199" y="385"/><use href="#s40" x="211" y="385"/><use href="#s67" x="217" y="385"/><use href="#s111" x="223" y="385"/><use href="#s111" x="229" y="385"/><use href="#s112" x="235" y="385"/><use href="#s101" x="241" y="385"/><use href="#s114" x="247" y="385"/><use href="#s50" x="253" y="385"/><use href="#s48" x="259" y="385"/><use href="#s49" x="265" y="385"/><use href="#s49" x="271" y="385"/><use href="#s41" x="277" y="385"/><use href="#s100" x="197" y="406"/><use href="#s103" x="203" y="406"/><use href="#s118" x="209" y="406"/><use href="#s52" x="215" y="406"/><use href="#s55" x="221" y="406"/><use href="#s56" x="227" y="406"/><use href="#s55" x="233" y="406"/><use href="#s110" x="239" y="406"/><use href="#s53" x="245" y="406"/><use href="#s52" x="251" y="406"/><use href="#s40" x="263" y="406"/><use href="#s67" x="269" y="406"/><use href="#s111" x="275" y="406"/><use href="#s111" x="281" y="406"/><use href="#s112" x="287" y="406"/><use href="#s101" x="293" y="406"/><use href="#s114" x="299" y="406"/><use href="#s50" x="305" y="406"/><use href="#s48" x="311" y="406"/><use href="#s49" x="317" y="406"/><use href="#s49" x="323" y="406"/><use href="#s41" x="329" y="406"/><use href="#s110" x="468" y="427"/><use href="#s115" x="474" y="427"/><use href="#s118" x="480" y="427"/><use href="#s53" x="486" y="427"/><use href="#s55" x="492" y="427"/><use href="#s48" x="498" y="427"/><use href="#s56" x="504" y="427"/><use href="#s50" x="510" y="427"/><use href="#s53" x="516" y="427"/><use href="#s40" x="528" y="427"/><use href="#s67" x="534" y="427"/><use href="#s111" x="540" y="427"/><use href="#s111" x="546" y="427"/><use href="#s112" x="552" y="427"/><use href="#s101" x="558" y="427"/><use href="#s114" x="564" y="427"/><use href="#s50" x="570" y="427"/><use href="#s48" x="576" y="427"/><use href="#s49" x="582" y="427"/><use href="#s49" x="588" y="427"/><use href="#s41" x="594" y="427"/><use href="#s110" x="662" y="448"/><use href="#s115" x="668" y="448"/><use href="#s118" x="674" y="448"/><use href="#s53" x="680" y="448"/><use href="#s55" x="686" y="448"/><use href="#s48" x="692" y="448"/><use href="#s56" x="698" y="448"/><use href="#s50" x="704" y="448"/><use href="#s54" x="710" y="448"/><use href="#s40" x="722" y="448"/><use href="#s67" x="728" y="448"/><use href="#s111" x="734" y="448"/><use href="#s111" x="740" y="448"/><use href="#s112" x="746" y="448"/><use href="#s101" x="752" y="448"/><use href="#s114" x="758" y="448"/><use href="#s50" x="764" y="448"/><use href="#s48" x="770" y="448"/><use href="#s49" x="776" y="448"/><use href="#s49" x="782" y="448"/><use href="#s41" x="788" y="448"/><use href="#b82" x="60" y="489"/><use href="#b101" x="67" y="489"/><use href="#b102" x="74" y="489"/><use href="#b83" x="81" y="489"/><use href="#b101" x="88" y="489"/><use href="#b113" x="95" y="489"/><use href="#b71" x="109" y="489"/><use href="#b101" x="116" y="489"/><use href="#b110" x="123" y="489"/><use href="#b101" x="130" y="489"/><use href="#b115" x="137" y="489"/><use href="#s65" x="521" y="501"/><use href="#s76" x="527" y="501"/><use href="#s68" x="533" y="501"/><use href="#s72" x="539" y="501"/><use href="#s49" x="545" y="501"/><use href="#s65" x="551" y="501"/><use href="#s51" x="557" y="501"/><use href="#s124" x="563" y="501"/><use href="#s78" x="569" y="501"/><use href="#s77" x="575" y="501"/><use href="#s95" x="581" y="501"/><use href="#s48" x="587" y="501"/><use href="#s48" x="593" y="501"/><use href="#s48" x="599" y="501"/><use href="#s54" x="605" y="501"/><use href="#s57" x="611" y="501"/><use href="#s51" x="617" y="501"/><use href="#b68" x="60" y="575"/><use href="#b69" x="67" y="575"/><use href="#b67" x="74" y="575"/><use href="#b73" x="81" y="575"/><use href="#b80" x="88" y="575"/><use href="#b72" x="95" y="575"/><use href="#b69" x="102" y="575"/><use href="#b82" x="109" y="575"/><use href="#b71" x="123" y="575"/><use href="#b101" x="130" y="575"/><use href="#b110" x="137" y="575"/><use href="#b111" x="144" y="575"/><use href="#b109" x="151" y="575"/><use href="#b105" x="158" y="575"/><use href="#b99" x="165" y="575"/><use href="#b68" x="179" y="575"/><use href="#b105" x="186" y="575"/><use href="#b115" x="193" y="575"/><use href="#b111" x="200" y="575"/><use href="#b114" x="207" y="575"/><use href="#b100" x="214" y="575"/><use href="#b101" x="221" y="575"/><use href="#b114" x="228" y="575"/><use href="#b115" x="235" y="575"/><use href="#s99" x="61" y="587"/><use href="#s104" x="67" y="587"/><use href="#s114" x="73" y="587"/><use href="#s49" x="79" y="587"/><use href="#s53" x="85" y="587"/><use href="#s58" x="91" y="587"/><use href="#s49" x="97" y="587"/><use href="#s48" x="103" y="587"/><use href="#s48" x="109" y="587"/><use href="#s51" x="115" y="587"/><use href="#s51" x="121" y="587"/><use href="#s56" x="127" y="587"/><use href="#s57" x="133" y="587"/><use href="#s49" x="139" y="587"/><use href="#s53" x="145" y="587"/><use href="#s45" x="151" y="587"/><use href="#s51" x="157" y="587"/><use href="#s49" x="163" y="587"/><use href="#s54" x="169" y="587"/><use href="#s51" x="175" y="587"/><use href="#s52" x="181" y="587"/><use href="#s50" x="187" y="587"/><use href="#s51" x="193" y="587"/><use href="#s124" x="199" y="587"/><use href="#s49" x="205" y="587"/><use href="#s53" x="211" y="587"/><use href="#s113" x="217" y="587"/><use href="#s50" x="223" y="587"/><use href="#s54" x="229" y="587"/><use href="#s111" x="241" y="587"/><use href="#s118" x="247" y="587"/><use href="#s101" x="253" y="587"/><use href="#s114" x="259" y="587"/><use href="#s103" x="265" y="587"/><use href="#s114" x="271" y="587"/><use href="#s111" x="277" y="587"/><use href="#s119" x="283" y="587"/><use href="#s116" x="289" y="587"/><use href="#s104" x="295" y="587"/><use href="#s115" x="307" y="587"/><use href="#s121" x="313" y="587"/><use href="#s110" x="319" y="587"/><use href="#s100" x="325" y="587"/><use href="#s114" x="331" y="587"/><use href="#s111" x="337" y="587"/><use href="#s109" x="343" y="587"/><use href="#s101" x="349" y="587"/></g></svg>
<div class="t" style="left:61px;top:14px">chr15:99237041..99237892</div>
<div class="t" style="left:91px;top:33px">99237100</div>
<div class="t" style="left:185px;top:33px">99237200</div>
<div class="t" style="left:279px;top:33px">99237300</div>
<div class="t" style="left:373px;top:33px">99237400</div>
<div class="t" style="left:467px;top:33px">99237500</div>
<div class="t" style="left:561px;top:33px">99237600</div>
<div class="t" style="left:655px;top:33px">99237700</div>
<div class="t" style="left:749px;top:33px">99237800</div>
<div class="t h" style="left:60px;top:67px">Cytogenetic Bands</div>
<div class="t" style="left:61px;top:79px">15q26.3</div>
<div class="t h" style="left:60px;top:121px">DGV Structural Variants (Blue:Gain;Red:Loss;Brown:Complex;Purple:Inversion;Black:Unknown)</div>
<div class="t" style="left:61px;top:133px">nsv1041172 (Coe2014)</div>
<div class="t" style="left:61px;top:154px">nsv469824 (Locke2006)</div>
<div class="t" style="left:61px;top:175px">nsv570802 (Cooper2011)</div>
<div class="t" style="left:61px;top:196px">dgv4781n54 (Cooper2011)</div>
<div class="t" style="left:61px;top:217px">nsv827467 (Park2010)</div>
<div class="t" style="left:61px;top:238px">nsv570804 (Cooper2011)</div>
<div class="t" style="left:61px;top:259px">esv26584 (Conrad2009)</div>
<div class="t" style="left:61px;top:280px">dgv4782n54 (Cooper2011)</div>
<div class="t" style="left:61px;top:301px">dgv4783n54 (Cooper2011)</div>
<div class="t" style="left:61px;top:322px">dgv4784n54 (Cooper2011)</div>
<div class="t" style="left:61px;top:343px">nsv570816 (Cooper2011)</div>
<div class="t" style="left:61px;top:364px">dgv4785n54 (Cooper2011)</div>
<div class="t" style="left:145px;top:385px">dgv4786n54 (Cooper2011)</div>
<div class="t" style="left:197px;top:406px">dgv4787n54 (Cooper2011)</div>
<div class="t" style="left:468px;top:427px">nsv570825 (Cooper2011)</div>
<div class="t" style="left:662px;top:448px">nsv570826 (Cooper2011)</div>
<div class="t h" style="left:60px;top:489px">RefSeq Genes</div>
<div class="t" style="left:521px;top:501px">ALDH1A3|NM_000693</div>
<div class="t h" style="left:60px;top:575px">DECIPHER Genomic Disorders</div>
<div class="t" style="left:61px;top:587px">chr15:100338915-3163423|15q26 overgrowth syndrome</div>
</div>
</body></html>
